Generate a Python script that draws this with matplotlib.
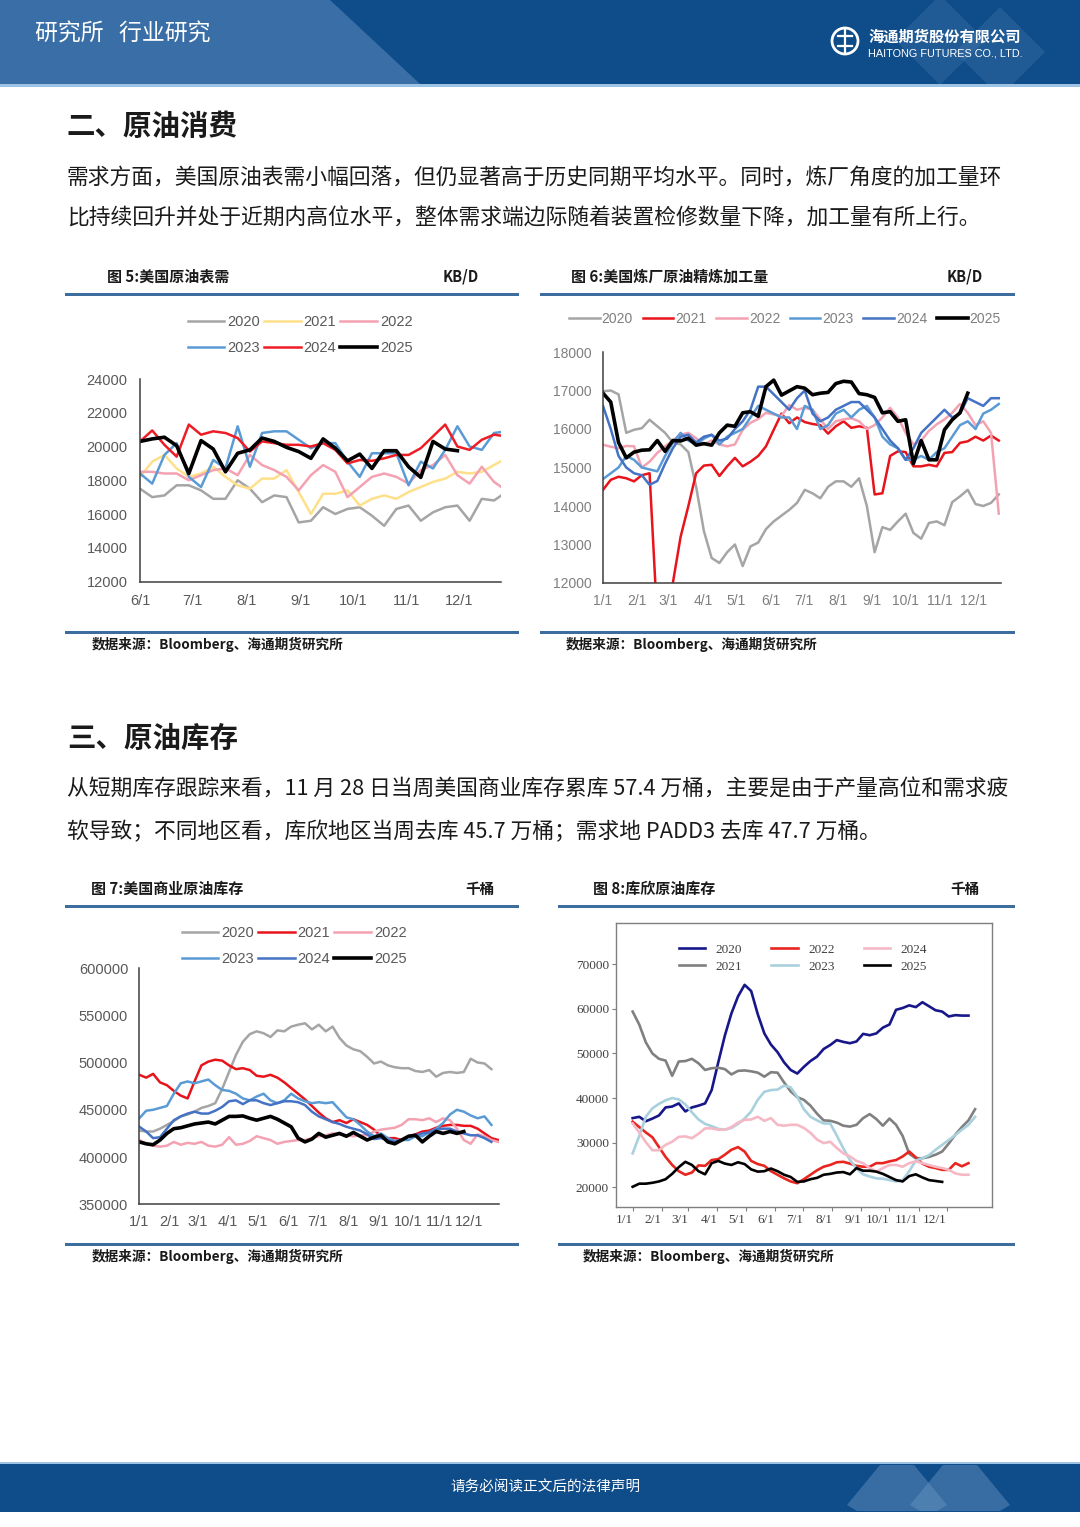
import matplotlib
matplotlib.use("Agg")
import matplotlib.pyplot as plt
from matplotlib.patches import Polygon, Rectangle, Circle
import numpy as np

plt.rcParams['font.family'] = ['Noto Sans CJK SC', 'DejaVu Sans']

W, H = 1080, 1527

# ---------------- data ----------------
years = ['2020', '2021', '2022', '2023', '2024', '2025']

# 图5 美国原油表需 (KB/D), weekly from 6/1
h2_days = [0, 30, 61, 92, 122, 153, 183]
h2_labels = ['6/1', '7/1', '8/1', '9/1', '10/1', '11/1', '12/1']
d5_2020 = [17500, 17000, 17100, 17700, 17700, 17400, 16900, 16900, 18000, 17500, 16700, 17100, 17000, 15500, 15600,
           16400, 16000, 16300, 16400, 15900, 15300, 16300, 16500, 15600, 16100, 16400, 16500, 15600, 16900, 16800, 17300]
d5_2021 = [18200, 19100, 19500, 18700, 18200, 18400, 18800, 18200, 17700, 17500, 18100, 18100, 18600, 17300, 16000,
           17200, 17200, 17400, 16500, 16900, 17100, 16900, 17300, 17600, 17900, 18100, 18500, 18400, 18500, 18900, 19300]
d5_2022 = [18500, 18500, 18400, 18400, 18000, 18300, 18600, 18700, 18300, 19500, 18900, 18600, 18200, 17400, 18300,
           18900, 18500, 17000, 17600, 18200, 18400, 18200, 17800, 18600, 18900, 19500, 18300, 17800, 18800, 17900, 17400]
d5_2023 = [18400, 17800, 19500, 20200, 18200, 17600, 19200, 18700, 21200, 18800, 20800, 20900, 20900, 20400, 19900,
           20200, 20200, 19100, 18200, 19600, 19600, 19600, 17700, 19100, 18700, 19800, 21200, 20000, 19800, 20800, 20900]
d5_2024 = [20300, 20950, 20100, 19400, 21300, 20700, 20900, 20800, 20500, 19700, 20300, 20200, 20100, 20100, 20000,
           20200, 19800, 19000, 19200, 19150, 19300, 19500, 19500, 19900, 20600, 21300, 20000, 19800, 20400, 20700, 20600]
d5_2025 = [20300, 20450, 20550, 20050, 18400, 20350, 19850, 18500, 19600, 19800, 20500, 20300, 19950, 19700, 19300,
           20450, 19900, 19150, 19550, 18700, 19750, 19750, 18800, 18170, 20300, 19850, 19750]

# full-year month ticks
month_days = [0, 31, 59, 90, 120, 151, 181, 212, 243, 273, 304, 334]
month_labels = ['1/1', '2/1', '3/1', '4/1', '5/1', '6/1', '7/1', '8/1', '9/1', '10/1', '11/1', '12/1']

# 图6 美国炼厂原油精炼加工量 (KB/D), weekly from 1/1
d6_2020 = [16980, 17000, 16900, 15900, 15980, 16020, 16240, 16070, 15900, 15650,
           15600, 15400, 14500, 13350, 12650, 12520, 12800, 13000, 12440, 12950,
           13050, 13400, 13600, 13750, 13900, 14080, 14420, 14330, 14200, 14500,
           14640, 14640, 14500, 14720, 14000, 12800, 13450, 13380, 13600, 13800,
           13300, 13150, 13560, 13600, 13500, 14100, 14250, 14420, 14050, 14000,
           14080, 14300]
d6_2021 = [14420, 14680, 14760, 14720, 14640, 14800, 14850, 11000, 10500, 12000,
           13200, 14000, 14850, 15050, 15070, 14780, 15030, 15250, 15030, 15150,
           15300, 15550, 15980, 16400, 16150, 16300, 16180, 16130, 16100, 15880,
           16070, 16200, 16030, 16070, 16030, 14300, 14330, 15300, 15420, 15400,
           15030, 15030, 15070, 15030, 15380, 15400, 15640, 15680, 15800, 15700,
           15830, 15700]
d6_2022 = [15590, 15540, 15500, 15560, 15550, 15000, 15150, 15380, 15550, 15700,
           15850, 15900, 15760, 15600, 15700, 15600, 15550, 15600, 15980, 16160,
           16260, 16420, 16380, 16340, 16620, 16500, 16550, 16500, 16250, 16000,
           16200, 16250, 16280, 16200, 16000, 16100, 16300, 16550, 16300, 15900,
           15600, 15700, 15950, 16120, 16250, 16420, 16650, 16420, 16100, 16200,
           15900, 13800]
d6_2023 = [14700, 14850, 15000, 15300, 15200, 15000, 14950, 14900, 15300, 15650,
           15900, 15700, 15600, 15750, 15850, 15600, 15800, 15900, 16000, 16300,
           16600, 16500, 16400, 16300, 16300, 16000, 16600, 16500, 16000, 16100,
           16400, 16500, 16300, 16500, 16600, 16300, 15800, 15600, 15500, 15200,
           15200, 15300, 15200, 15400, 15500, 15800, 16100, 16200, 16000, 16400,
           16500, 16650]
d6_2024 = [16600, 16000, 15300, 15000, 14850, 14800, 14550, 14650, 15100, 15500,
           15800, 15850, 15650, 15800, 15850, 15700, 15750, 16000, 16200, 16500,
           17100, 17100, 16900, 16700, 16500, 16800, 17000, 16400, 16200, 16300,
           16500, 16600, 16700, 16700, 16500, 16300, 16000, 15700, 15500, 15200,
           15500, 15900, 16100, 16300, 16500, 16300, 16400, 16800, 16700, 16600,
           16800, 16800]
d6_2025 = [16930, 16700, 15650, 15250, 15400, 15450, 15460, 15700, 15420, 15700,
           15690, 15760, 15580, 15620, 15580, 15900, 16100, 16070, 16420, 16450,
           16330, 17100, 17270, 16880, 16990, 17100, 17060, 16890, 16930, 16950,
           17180, 17240, 17220, 16920, 16890, 16820, 16420, 16450, 16200, 16240,
           15100, 15700, 15200, 15200, 15980, 16240, 16420, 16930]

# 图7 美国商业原油库存 (千桶), weekly from 1/1
d7_2020 = [428000, 427000, 427000, 430000, 434000, 438000, 443000, 445000, 448000, 452000,
           454000, 457000, 472000, 490000, 508000, 522000, 530000, 533000, 531000, 527000,
           534000, 533000, 538000, 540000, 541500, 535000, 540000, 533000, 538000, 526000,
           518000, 514000, 512000, 506000, 499000, 501000, 497000, 495000, 494000, 494000,
           491000, 490000, 492000, 485000, 489000, 490000, 489000, 490000, 504000, 500000,
           499000, 493000]
d7_2021 = [487000, 484000, 488000, 479000, 476000, 470000, 465000, 462000, 480000, 497000,
           501000, 503000, 502000, 497000, 493000, 494000, 492000, 486000, 485000, 487000,
           484000, 479000, 473000, 467000, 461000, 454000, 447000, 441000, 437000, 439000,
           436000, 440000, 437000, 434000, 429000, 422000, 420000, 420000, 418000, 422000,
           424000, 427000, 428000, 431000, 433000, 434000, 434000, 433000, 433000, 430000,
           425000, 420000, 418000]
d7_2022 = [418000, 414000, 412000, 411000, 412000, 416000, 413000, 415000, 414000, 416000,
           412000, 411000, 413000, 421000, 413000, 414000, 417000, 422000, 420000, 418000,
           414000, 416000, 417000, 418000, 418000, 420000, 422000, 423000, 425000, 424000,
           423000, 422000, 423000, 423000, 427000, 429000, 430000, 431000, 434000, 440000,
           440000, 439000, 441000, 437000, 441000, 439000, 430000, 418000, 414000, 424000,
           422000, 418000, 416000]
d7_2023 = [441000, 449000, 450000, 452000, 454000, 467000, 478000, 480000, 478000, 480000,
           482000, 476000, 471000, 470000, 467000, 462000, 460000, 464000, 467000, 460000,
           457000, 460000, 467000, 462000, 459000, 457000, 458000, 457000, 458000, 450000,
           442000, 440000, 434000, 427000, 422000, 425000, 420000, 417000, 418000, 418000,
           422000, 422000, 426000, 430000, 436000, 445000, 450000, 448000, 444000, 441000,
           443000, 434000]
d7_2024 = [432000, 427000, 420000, 421000, 430000, 439000, 443000, 446000, 448000, 446000,
           446000, 449000, 453000, 459000, 460000, 456000, 460000, 460000, 457000, 455000,
           457000, 459000, 459000, 458000, 455000, 448000, 443000, 440000, 437000, 435000,
           432000, 430000, 428000, 424000, 419000, 420000, 418000, 416000, 418000, 422000,
           423000, 425000, 426000, 429000, 430000, 430000, 427000, 425000, 423000, 423000,
           420000, 416000]
d7_2025 = [416000, 414000, 413000, 418000, 425000, 430000, 431000, 433000, 435000, 436000,
           437000, 435000, 439000, 443000, 443000, 443500, 441000, 439000, 441000, 443000,
           440000, 436000, 432000, 420000, 416000, 419000, 425000, 421000, 423000, 425000,
           422000, 426000, 422000, 418000, 421000, 423000, 416000, 414000, 418000, 422000,
           423000, 416000, 422000, 427000, 425000, 427000, 425000, 427000]

# 图8 库欣原油库存 (千桶), weekly from 1/1
d8_2020 = [35500, 35800, 34800, 35400, 36100, 37900, 38100, 38800, 37000, 37900,
           38300, 38800, 41800, 48000, 54000, 59000, 62800, 65400, 64000, 58800,
           54500, 52000, 50300, 48000, 46300, 45500, 47000, 48300, 49300, 51000,
           51900, 53000, 52600, 52300, 52700, 54400, 54100, 54500, 55800, 56500,
           59800, 60200, 60800, 60400, 61500, 60600, 59700, 59400, 58300, 58600,
           58500, 58500]
d8_2021 = [59400, 56500, 52500, 50000, 48800, 48400, 45000, 48200, 48300, 48800,
           47800, 46300, 46700, 46800, 46500, 45300, 46100, 46200, 46000, 45700,
           44800, 45800, 45700, 43500, 41500, 40200, 39600, 38300, 36500, 35000,
           34900, 34500, 33800, 33600, 34000, 35500, 36400, 35300, 33800, 35400,
           34000, 31500, 27500, 26500, 26500, 26800, 27300, 28000, 29800, 31800,
           33500, 35000, 37500]
d8_2022 = [34700, 33500, 32300, 31200, 29000, 26800, 25000, 23600, 22800, 23300,
           24900, 24800, 26100, 26300, 27300, 28400, 29000, 28000, 25900, 25200,
           24800, 23600, 22800, 22000, 21300, 20900, 21800, 22800, 23800, 24600,
           25000, 25600, 25700, 25300, 24800, 24600, 24600, 25400, 25400, 25800,
           26100, 26900, 28000, 26700, 25300, 24600, 24300, 23900, 23900, 25400,
           24700, 25400]
d8_2023 = [27600, 31500, 35800, 37700, 38700, 39500, 40000, 39700, 38600, 36800,
           35200, 34200, 33700, 33100, 32900, 33300, 34200, 35400, 37000, 39600,
           41400, 41800, 41900, 42800, 42400, 40300, 37500, 35800, 35000, 34300,
           34300, 31600, 28700, 26100, 24200, 22900, 22400, 22000, 21900, 21600,
           21300, 21600, 23600, 26000, 26500, 27200, 28400, 29500, 30600, 31700,
           32900, 34000, 35800]
d8_2024 = [34300, 32300, 30100, 28300, 28300, 29500, 30200, 31300, 31400, 31000,
           32000, 33200, 33200, 32900, 32900, 33500, 34500, 35100, 35200, 35800,
           34900, 35500, 34000, 33800, 34000, 34000, 33300, 32200, 30700, 29900,
           30200, 28800, 27600, 26900, 25900, 25400, 24300, 23500, 24300, 25000,
           25000, 24600, 25400, 25800, 25400, 25000, 24600, 24300, 23900, 23100,
           22800, 22800]
d8_2025 = [20100, 20800, 20800, 21000, 21300, 21800, 23000, 24500, 25700, 25000,
           23600, 22900, 25400, 25900, 25300, 25000, 25600, 25200, 24000, 23500,
           23600, 24200, 23600, 22800, 22300, 21200, 21300, 21800, 22100, 22800,
           23000, 23300, 23400, 22900, 24300, 23700, 23700, 23500, 23000, 22300,
           21600, 21300, 22500, 22900, 22200, 21600, 21400, 21200]

# ---------------- page ----------------
fig = plt.figure(figsize=(W / 100, H / 100), dpi=100)
bg = fig.add_axes([0, 0, 1, 1], zorder=-5)
bg.set_xlim(0, W)
bg.set_ylim(H, 0)
bg.axis('off')

dark_blue = '#0f4d8a'
rule_blue = '#3d6d9e'

# header band
bg.add_patch(Rectangle((0, 0), W, 84, color=dark_blue, lw=0))
bg.add_patch(Polygon([(0, 0), (330, 0), (420, 84), (0, 84)], closed=True, color='#3a6ea6', lw=0))
for cx, cy in ((940, 40), (1000, 52)):
    bg.add_patch(Polygon([(cx, cy - 45), (cx + 45, cy), (cx, cy + 45), (cx - 45, cy)], closed=True,
                         color='#5a87b8', alpha=0.25, lw=0, clip_on=True))
bg.add_patch(Rectangle((0, 84), W, 3, color='#9cc3e6', lw=0))
bg.add_patch(Rectangle((0, 87), W, 20, color='white', lw=0))
bg.text(35, 34, '研究所   行业研究', color='white', fontsize=16.5, va='center', ha='left')
bg.add_patch(Circle((845, 41), 13, fill=False, ec='white', lw=2))
bg.plot([838, 852], [36, 36], color='white', lw=1.6)
bg.plot([838, 852], [46, 46], color='white', lw=1.6)
bg.plot([845, 845], [30, 52], color='white', lw=1.6)
bg.text(868, 37, '海通期货股份有限公司', color='white', fontsize=11, fontweight='bold', va='center')
bg.text(868, 53, 'HAITONG FUTURES CO., LTD.', color='white', fontsize=7.8, va='center',
        family=['Liberation Sans', 'DejaVu Sans'])

# footer band
bg.add_patch(Rectangle((0, 1462), W, 2, color='#9cc3e6', lw=0))
bg.add_patch(Rectangle((0, 1464), W, 48, color=dark_blue, lw=0))
for cx in (897, 960):
    bg.add_patch(Polygon([(cx - 50, 1505), (cx - 17, 1465), (cx + 17, 1465), (cx + 50, 1505), (cx + 40, 1511),
                          (cx - 40, 1511)], closed=True, color='#6a95c2', alpha=0.45, lw=0))
bg.text(545, 1487, '请务必阅读正文后的法律声明', color='white', fontsize=10.5, ha='center', va='center')

# section texts
text_col = '#1a1a1a'
bg.text(67, 127, '二、原油消费', fontsize=20.5, fontweight='bold', va='center', color=text_col)
bg.text(67, 178, '需求方面，美国原油表需小幅回落，但仍显著高于历史同期平均水平。同时，炼厂角度的加工量环',
        fontsize=15.7, va='center', color=text_col)
bg.text(67, 219, '比持续回升并处于近期内高位水平，整体需求端边际随着装置检修数量下降，加工量有所上行。',
        fontsize=15.7, va='center', color=text_col)
bg.text(67, 739, '三、原油库存', fontsize=20.5, fontweight='bold', va='center', color=text_col)
bg.text(67, 790, '从短期库存跟踪来看，11 月 28 日当周美国商业库存累库 57.4 万桶，主要是由于产量高位和需求疲',
        fontsize=15.7, va='center', color=text_col)
bg.text(67, 832, '软导致；不同地区看，库欣地区当周去库 45.7 万桶；需求地 PADD3 去库 47.7 万桶。',
        fontsize=15.7, va='center', color=text_col)


def frame(x0, x1, y_top, y_bot, title, tx, unit, ux, src_x):
    bg.add_patch(Rectangle((x0, y_top - 1.5), x1 - x0, 3.5, color=rule_blue, lw=0))
    bg.add_patch(Rectangle((x0, y_bot - 1.5), x1 - x0, 3.5, color=rule_blue, lw=0))
    bg.text(tx, y_top - 17, title, fontsize=10.8, fontweight='bold', va='center', color=text_col)
    bg.text(ux, y_top - 17, unit, fontsize=10.5, fontweight='bold', va='center', ha='right', color=text_col)
    bg.text(src_x, y_bot + 12, '数据来源：Bloomberg、海通期货研究所', fontsize=9.8, fontweight='bold',
            va='center', color=text_col)


frame(65, 519, 294, 632, '图 5:美国原油表需', 107, 'KB/D', 479, 92)
frame(540, 1015, 294, 632, '图 6:美国炼厂原油精炼加工量', 571, 'KB/D', 983, 566)
frame(65, 519, 906, 1244, '图 7:美国商业原油库存', 91, '千桶', 495, 92)
frame(558, 1015, 906, 1244, '图 8:库欣原油库存', 593, '千桶', 980, 583)


def pixel_axes(x0, y0, x1, y1):
    return fig.add_axes([x0 / W, 1 - y1 / H, (x1 - x0) / W, (y1 - y0) / H])


def excel_style(ax, family, size, color, pad):
    for s in ('top', 'right'):
        ax.spines[s].set_visible(False)
    for s in ('left', 'bottom'):
        ax.spines[s].set_color('#3f3f3f')
        ax.spines[s].set_linewidth(1.1)
    ax.tick_params(length=0, labelsize=size, labelcolor=color, pad=pad, labelfontfamily=family)
    ax.patch.set_alpha(0)


def legend_at(ax, order, x, y, **kw):
    hs, ls = ax.get_legend_handles_labels()
    leg = ax.legend([hs[i] for i in order], [ls[i] for i in order], loc='center',
                    bbox_to_anchor=(x / W, 1 - y / H), bbox_transform=fig.transFigure,
                    frameon=False, **kw)
    return leg


sans = ['Liberation Sans', 'DejaVu Sans']

# ---- chart 5 ----
c5 = ['#a5a5a5', '#ffe08a', '#f4a1b2', '#5b9bd5', '#ee1c24', '#000000']
w5 = [1.8, 1.8, 1.8, 1.8, 1.8, 2.6]
ax5 = pixel_axes(140, 379, 501, 581.5)
for yr, vals, c, lw in zip(years, [d5_2020, d5_2021, d5_2022, d5_2023, d5_2024, d5_2025], c5, w5):
    ax5.plot(np.arange(len(vals)) * 7, vals, color=c, lw=lw, label=yr)
ax5.set_xlim(0, 207)
ax5.set_ylim(12000, 24000)
ax5.set_xticks(h2_days, h2_labels)
ax5.set_yticks(range(12000, 24001, 2000))
excel_style(ax5, sans, 10.5, '#595959', 9)
legend_at(ax5, [0, 3, 1, 4, 2, 5], 300, 335, ncol=3, handlelength=2.5,
          handletextpad=0.2, columnspacing=0.3, labelspacing=0.8, labelcolor='#595959',
          prop={'family': sans, 'size': 10.5})

# ---- chart 6 ----
c6 = ['#a5a5a5', '#e8141c', '#f4a1b2', '#5b9bd5', '#4472c4', '#000000']
ax6 = pixel_axes(603, 352, 1001, 583)
for yr, vals, c, lw in zip(years, [d6_2020, d6_2021, d6_2022, d6_2023, d6_2024, d6_2025], c6, w5):
    ax6.plot(np.arange(len(vals)) * 7, vals, color=c, lw=lw, label=yr)
ax6.set_xlim(0, 359)
ax6.set_ylim(12000, 18000)
ax6.set_xticks(month_days, month_labels)
ax6.set_yticks(range(12000, 18001, 1000))
narrow = ['Liberation Sans Narrow', 'Liberation Sans', 'DejaVu Sans']
excel_style(ax6, narrow, 10, '#7f7f7f', 8)
legend_at(ax6, [0, 1, 2, 3, 4, 5], 785, 319, ncol=6, handlelength=2.2, handletextpad=0.15,
          columnspacing=0.7, labelcolor='#7f7f7f', prop={'family': narrow, 'size': 10})

# ---- chart 7 ----
c7 = ['#a5a5a5', '#e8141c', '#f4a1b2', '#5b9bd5', '#4472c4', '#000000']
ax7 = pixel_axes(139.3, 968, 499.3, 1204.3)
for yr, vals, c, lw in zip(years, [d7_2020, d7_2021, d7_2022, d7_2023, d7_2024, d7_2025], c7, w5):
    ax7.plot(np.arange(len(vals)) * 7, vals, color=c, lw=lw, label=yr)
ax7.set_xlim(0, 365)
ax7.set_ylim(350000, 600000)
ax7.set_xticks(month_days, month_labels)
ax7.set_yticks(range(350000, 600001, 50000))
excel_style(ax7, sans, 10.5, '#595959', 8)
legend_at(ax7, [0, 3, 1, 4, 2, 5], 294, 946, ncol=3, handlelength=2.5, handletextpad=0.2,
          columnspacing=0.3, labelspacing=0.8, labelcolor='#595959', prop={'family': sans, 'size': 10.5})

# ---- chart 8 ----
c8 = ['#17178a', '#808080', '#e8251f', '#a9d1dd', '#f5b9c5', '#000000']
serif = ['Liberation Serif', 'DejaVu Serif']
ax8 = pixel_axes(616, 923.3, 992, 1207.3)
for yr, vals, c in zip(years, [d8_2020, d8_2021, d8_2022, d8_2023, d8_2024, d8_2025], c8):
    ax8.plot(np.arange(len(vals)) * 7, vals, color=c, lw=1.9, label=yr)
ax8.set_xlim(-17.7, 382)
ax8.set_ylim(15500, 79200)
ax8.set_xticks(month_days, month_labels)
ax8.set_yticks(range(20000, 70001, 10000))
for s in ax8.spines.values():
    s.set_color('#7f7f7f')
    s.set_linewidth(1.0)
ax8.tick_params(length=3, width=0.8, color='#7f7f7f', labelsize=9.5, labelcolor='#404040', pad=2,
                labelfontfamily=serif)
for lab in ax8.get_xticklabels():
    lab.set_ha('right')
legend_at(ax8, [0, 1, 2, 3, 4, 5], 803, 958, ncol=3, handlelength=2.0, handletextpad=0.8,
          columnspacing=2.2, labelspacing=0.35, labelcolor='#404040', prop={'family': serif, 'size': 9.5})

fig.savefig('out.png', dpi=100)
